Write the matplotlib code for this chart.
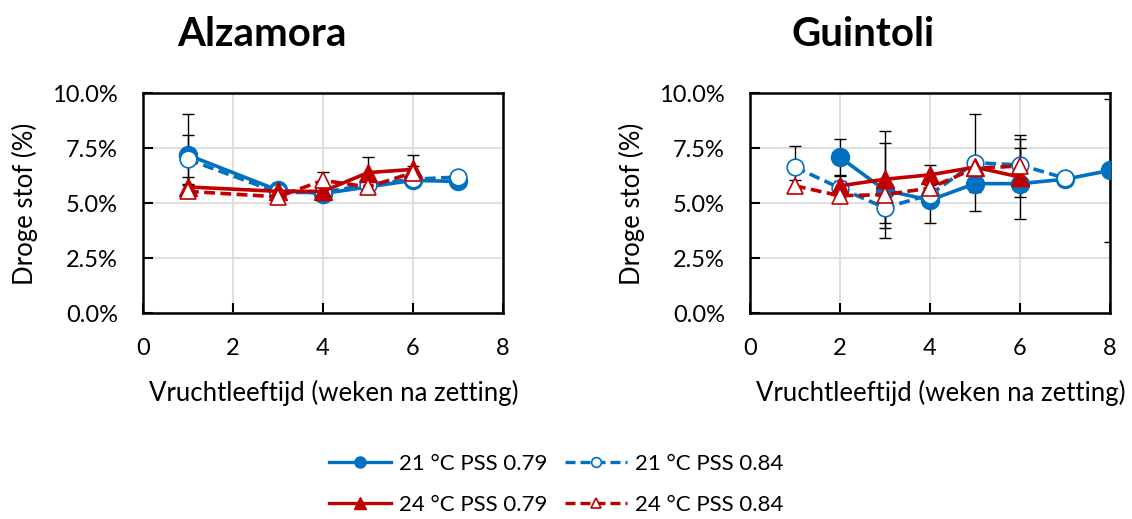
import numpy as np
import matplotlib
matplotlib.use("Agg")
import matplotlib.pyplot as plt
from matplotlib.lines import Line2D
from matplotlib.ticker import PercentFormatter

plt.rcParams['font.family'] = ['Lato', 'DejaVu Sans']

blauw = '#0070C0'
rood = '#C00000'

# Alzamora: droge stof (%) per vruchtleeftijd (weken na zetting)
alz_21_079_x = [1, 3, 4, 6, 7]
alz_21_079_y = [7.2, 5.6, 5.45, 6.05, 6.0]
alz_21_079_e = [1.85, 0.15, 0.15, 0.1, 0.1]

alz_21_084_x = [1, 3, 4, 5, 6, 7]
alz_21_084_y = [7.0, 5.5, 5.5, 5.85, 6.1, 6.2]
alz_21_084_e = [1.1, 0.1, 0.2, 0.15, 0.1, 0.1]

alz_24_079_x = [1, 3, 4, 5, 6]
alz_24_079_y = [5.75, 5.55, 5.55, 6.4, 6.55]
alz_24_079_e = [0.45, 0.2, 0.2, 0.7, 0.65]

alz_24_084_x = [1, 3, 4, 5, 6]
alz_24_084_y = [5.55, 5.3, 6.05, 5.75, 6.4]
alz_24_084_e = [0.3, 0.15, 0.4, 0.2, 0.3]

# Guintoli
gui_21_079_x = [2, 3, 4, 5, 6, 7, 8]
gui_21_079_y = [7.1, 5.6, 5.15, 5.9, 5.9, 6.1, 6.5]
gui_21_079_e = [0.85, 2.15, 1.05, 0.4, 1.6, 0.1, 3.25]

gui_21_084_x = [1, 2, 3, 4, 5, 6, 7]
gui_21_084_y = [6.65, 5.7, 4.8, 5.4, 6.85, 6.75, 6.15]
gui_21_084_e = [0.95, 0.3, 0.7, 0.3, 2.2, 1.2, 0.1]

gui_24_079_x = [2, 3, 4, 5, 6]
gui_24_079_y = [5.8, 6.1, 6.3, 6.65, 6.2]
gui_24_079_e = [0.5, 2.2, 0.45, 0.3, 0.3]

gui_24_084_x = [1, 2, 3, 4, 5, 6]
gui_24_084_y = [5.8, 5.35, 5.4, 5.7, 6.6, 6.7]
gui_24_084_e = [0.25, 0.3, 0.3, 0.3, 0.3, 1.4]

labels = ['21 °C PSS 0.79', '21 °C PSS 0.84', '24 °C PSS 0.79', '24 °C PSS 0.84']
stijlen = [
    dict(color=blauw, ls='-', marker='o', mfc=blauw, ms=13),
    dict(color=blauw, ls=(0, (3, 1.5)), marker='o', mfc='white', ms=12, mew=1.2),
    dict(color=rood, ls='-', marker='^', mfc=rood, ms=13),
    dict(color=rood, ls=(0, (3, 1.5)), marker='^', mfc='white', ms=12, mew=1.2),
]


def teken(ax, reeksen, titel, titel_x):
    for (x, y, e), st in zip(reeksen, stijlen):
        ax.errorbar(x, y, yerr=e, fmt='none', ecolor='black', elinewidth=1,
                    capsize=4.5, capthick=1, zorder=3)
        ax.plot(x, y, lw=2.6, mec=st['color'], zorder=4, **st)
    ax.set_xlim(0, 8)
    ax.set_ylim(0, 10)
    ax.set_xticks([0, 2, 4, 6, 8])
    ax.set_yticks([0, 2.5, 5, 7.5, 10])
    ax.yaxis.set_major_formatter(PercentFormatter(decimals=1))
    ax.grid(True, color='#d9d9d9', lw=1.2)
    ax.set_axisbelow(True)
    for s in ax.spines.values():
        s.set_linewidth(1.8)
        s.set_color('black')
    ax.tick_params(direction='in', length=7, width=1.5, labelsize=17, pad=18,
                   colors='black')
    ax.set_xlabel('Vruchtleeftijd (weken na zetting)', fontsize=18.5)
    ax.xaxis.set_label_coords(0.53, -0.30)
    ax.set_ylabel('Droge stof (%)', fontsize=18.5, va='center')
    ax.yaxis.set_label_coords(-0.328, 0.5)
    fig.text(titel_x, 0.933, titel, fontsize=29, fontweight='bold',
             ha='center', va='center')


fig = plt.figure(figsize=(11.32, 5.19), dpi=100)
ax1 = fig.add_axes([0.1263, 0.396, 0.318, 0.424])
ax2 = fig.add_axes([0.6625, 0.396, 0.318, 0.424])

teken(ax1, [(alz_21_079_x, alz_21_079_y, alz_21_079_e),
            (alz_21_084_x, alz_21_084_y, alz_21_084_e),
            (alz_24_079_x, alz_24_079_y, alz_24_079_e),
            (alz_24_084_x, alz_24_084_y, alz_24_084_e)], 'Alzamora', 0.231)
teken(ax2, [(gui_21_079_x, gui_21_079_y, gui_21_079_e),
            (gui_21_084_x, gui_21_084_y, gui_21_084_e),
            (gui_24_079_x, gui_24_079_y, gui_24_079_e),
            (gui_24_084_x, gui_24_084_y, gui_24_084_e)], 'Guintoli', 0.762)

# legenda met kleinere markers, rij voor rij
handles = []
for st in stijlen:
    kl = dict(st)
    kl['ms'] = 8 if kl['mfc'] != 'white' else 7
    handles.append(Line2D([], [], lw=2.4, mec=kl['color'], **kl))
volgorde = [0, 2, 1, 3]
fig.legend([handles[i] for i in volgorde], [labels[i] for i in volgorde],
           loc='center', bbox_to_anchor=(0.491, 0.067),
           ncol=2, frameon=False, fontsize=16, handlelength=2.8,
           columnspacing=0.8, handletextpad=0.35, labelspacing=0.95)

fig.savefig('out.png', dpi=100)
